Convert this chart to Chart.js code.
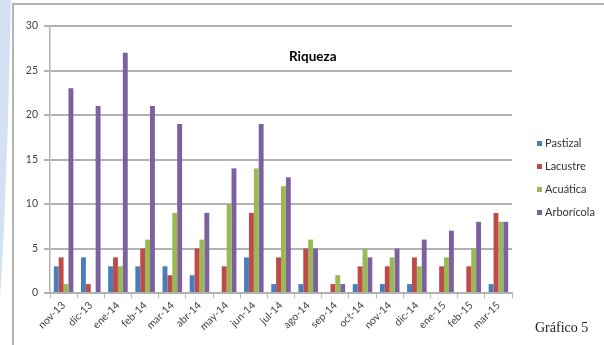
<!DOCTYPE html>
<html>
<head>
<meta charset="utf-8">
<script src="https://cdn.jsdelivr.net/npm/chart.js@4.4.0/dist/chart.umd.min.js"></script>
<style>
    html, body { margin: 0; padding: 0; background: #fff; }
    #page { position: relative; width: 604px; height: 345px; overflow: hidden; }
    #swoosh {
        position: absolute; left: 0; top: 0; width: 14px; height: 345px;
        background: #d3e1f3;
        clip-path: polygon(0 0, 11px 0, 8px 120px, 4px 230px, 0 300px);
    }
    #frame {
        position: absolute; left: 12px; top: 3px; right: -4px; bottom: -4px;
        border-left: 2px solid #b4b4b4; border-top: 2px solid #b4b4b4;
    }
    #chart { position: absolute; left: 0; top: 0; }
    #title {
        position: absolute; left: 289px; top: 48px;
        font: bold 13.5px Lato, sans-serif; color: #000;
    }
    #legend { position: absolute; left: 537px; top: 135px; font: 11px Lato, sans-serif; color: #333; }
    #legend div { height: 23px; line-height: 15px; white-space: nowrap; }
    #legend span { display: inline-block; width: 5px; height: 5px; margin-right: 3px; vertical-align: 1px; }
    #caption {
        position: absolute; left: 535px; top: 320px;
        font: 14px "Liberation Serif", serif; color: #222;
    }
</style>
</head>
<body>
<div id="page">
    <div id="swoosh"></div>
    <div id="frame"></div>
    <canvas id="chart" width="604" height="345"></canvas>
    <div id="title">Riqueza</div>
    <div id="legend"></div>
    <div id="caption">Gráfico 5</div>
</div>
<script>
"use strict";

const months = ["nov-13", "dic-13", "ene-14", "feb-14", "mar-14", "abr-14", "may-14", "jun-14", "jul-14",
    "ago-14", "sep-14", "oct-14", "nov-14", "dic-14", "ene-15", "feb-15", "mar-15"];
const pastizal   = [3, 4, 3, 3, 3, 2, 0, 4, 1, 1, 0, 1, 1, 1, 0, 0, 1];
const lacustre   = [4, 1, 4, 5, 2, 5, 3, 9, 4, 5, 1, 3, 3, 4, 3, 3, 9];
const acuatica   = [1, 0, 3, 6, 9, 6, 10, 14, 12, 6, 2, 5, 4, 3, 4, 5, 8];
const arboricola = [23, 21, 27, 21, 19, 9, 14, 19, 13, 5, 1, 4, 5, 6, 7, 8, 8];
const yTicks = [0, 5, 10, 15, 20, 25, 30];

const seriesNames = ["Pastizal", "Lacustre", "Acuática", "Arborícola"];
const seriesColors = ["#4a7ebb", "#be4b48", "#98b954", "#7d60a0"];
const seriesValues = [pastizal, lacustre, acuatica, arboricola];

function buildDatasets() {
    return seriesNames.map((name, i) => ({
        label: name,
        data: seriesValues[i],
        backgroundColor: seriesColors[i],
        borderWidth: 0,
        barPercentage: 1,
        categoryPercentage: 0.72
    }));
}

function buildLegend() {
    const box = document.querySelector("#legend");
    seriesNames.forEach((name, i) => {
        const row = document.createElement("div");
        const swatch = document.createElement("span");
        swatch.style.background = seriesColors[i];
        row.appendChild(swatch);
        row.appendChild(document.createTextNode(name));
        box.appendChild(row);
    });
}

const gridGray = "#b2b2b2";
const tickFont = { family: "Lato, sans-serif", size: 10.5 };

function createRiquezaChart() {
    const ctx = document.querySelector("#chart").getContext("2d");
    const configuration = {
        type: "bar",
        data: {
            labels: months,
            datasets: buildDatasets()
        },
        options: {
            responsive: false,
            animation: false,
            layout: {
                padding: { left: 0, top: 26, right: 92, bottom: 0 }
            },
            plugins: {
                legend: { display: false },
                title: { display: false },
                tooltip: { enabled: false }
            },
            scales: {
                x: {
                    afterFit: (scale) => { scale.height = 52; },
                    grid: {
                        drawOnChartArea: false,
                        drawTicks: true,
                        tickLength: 5,
                        color: gridGray,
                        lineWidth: 1
                    },
                    border: { color: gridGray, width: 1.5 },
                    ticks: {
                        color: "#444",
                        font: tickFont,
                        minRotation: 45,
                        maxRotation: 45,
                        padding: 1
                    }
                },
                y: {
                    min: 0,
                    max: 30,
                    afterFit: (scale) => { scale.width = 50; },
                    afterBuildTicks: (scale) => {
                        scale.ticks = yTicks.map(v => ({ value: v }));
                    },
                    grid: {
                        color: gridGray,
                        lineWidth: 2,
                        tickLength: 6
                    },
                    border: { color: gridGray, width: 1.5 },
                    ticks: {
                        color: "#444",
                        font: tickFont,
                        padding: 6
                    }
                }
            }
        }
    };
    new Chart(ctx, configuration); //NOSONAR
}

buildLegend();
createRiquezaChart();
</script>
</body>
</html>
